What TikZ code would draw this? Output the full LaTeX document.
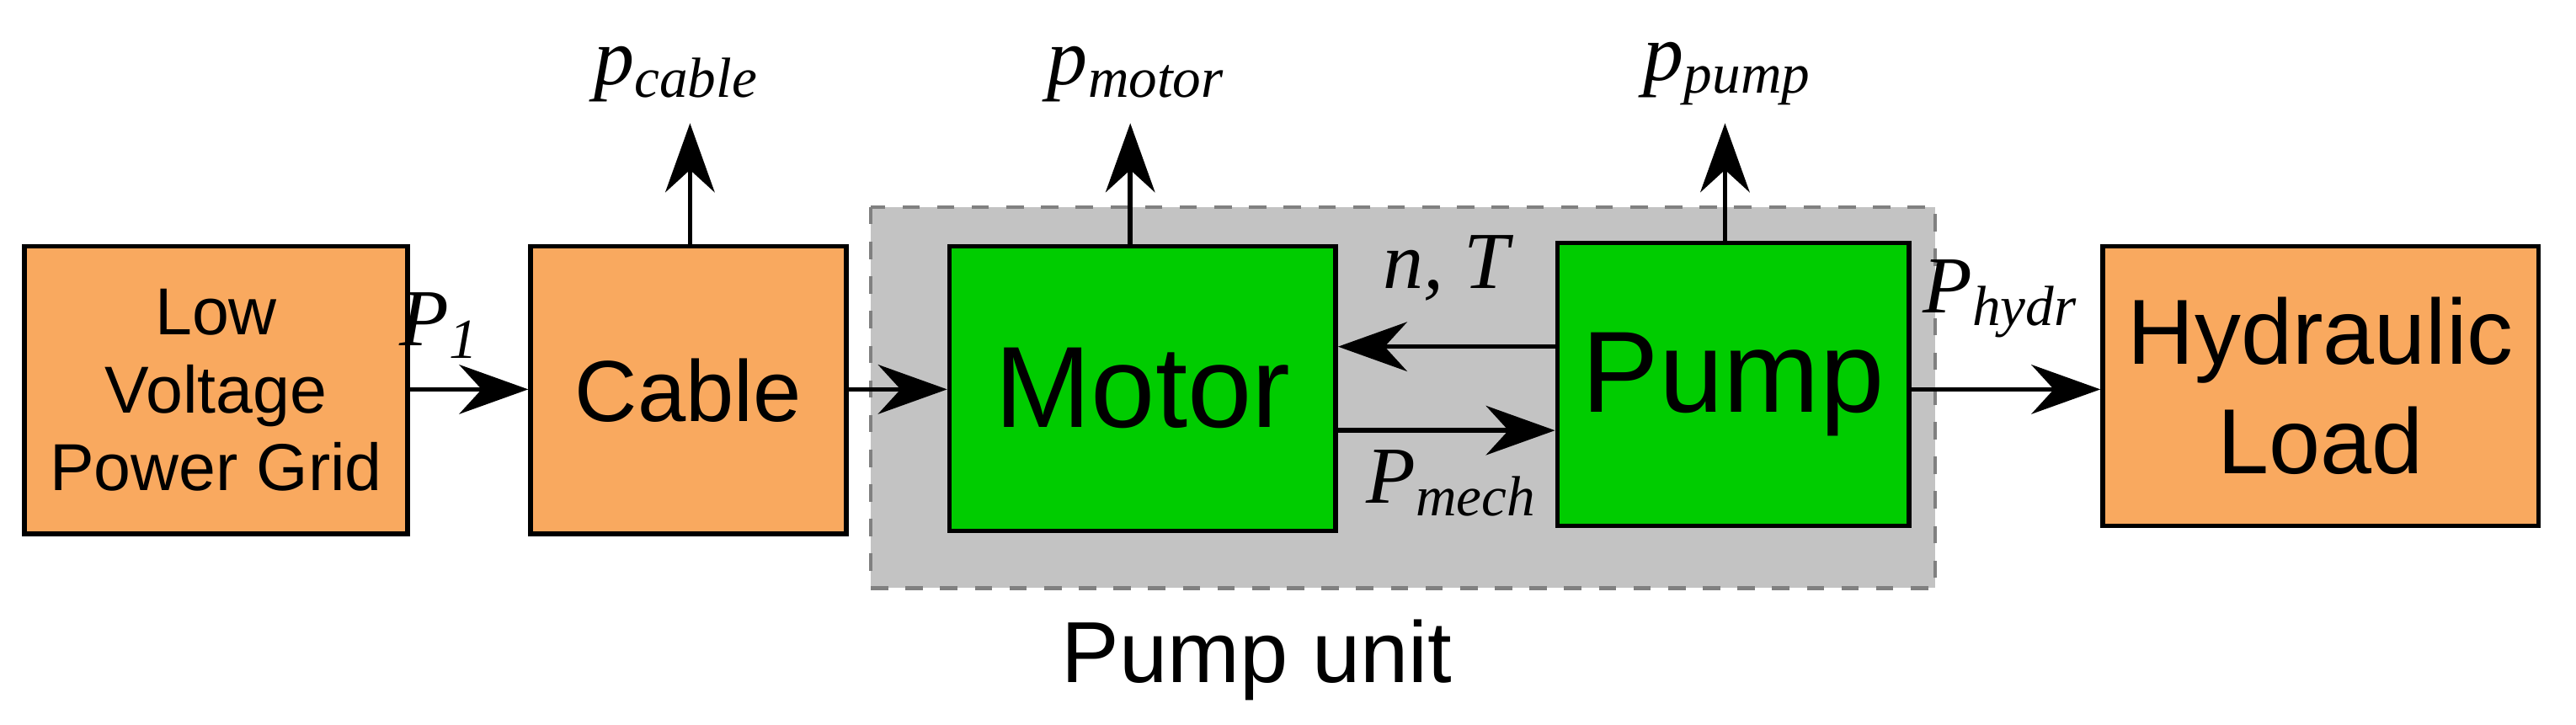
\documentclass[tikz,border=0pt]{standalone}
\usepackage{fontspec}
\setmainfont{Liberation Sans}
\newfontfamily\lserif{Liberation Serif}
\usetikzlibrary{arrows.meta}
\definecolor{org}{HTML}{F9A95F}
\definecolor{grn}{HTML}{00CC00}
\definecolor{gry}{HTML}{C3C3C3}
\begin{document}
\begin{tikzpicture}[x=0.01cm,y=-0.01cm,
 box/.style={draw=black,line width=0.8pt,align=center,inner sep=0pt},
 arr/.style={-{Stealth[length=0.42cm,width=0.3cm]},line width=0.8pt},
 lab/.style={font=\lserif\itshape\fontsize{14}{14}\selectfont}]
\useasboundingbox (0,0) rectangle (1568,441);
\fill[gry] (530,126) rectangle (1178,358);
\draw[dashed,gray,line width=0.6pt] (530,126) rectangle (1178,358);
\node[box,fill=org,minimum width=2.33cm,minimum height=1.75cm,font=\fontsize{11.5}{13.5}\selectfont] (grid) at (131.5,237.5) {Low\\Voltage\\Power Grid};
\node[box,fill=org,minimum width=1.92cm,minimum height=1.75cm,font=\fontsize{15}{17}\selectfont] (cable) at (419,237.5) {Cable};
\node[box,fill=grn,minimum width=2.35cm,minimum height=1.73cm,font=\fontsize{20}{22}\selectfont] (motor) at (695.5,236.5) {Motor};
\node[box,fill=grn,minimum width=2.14cm,minimum height=1.72cm,font=\fontsize{20}{22}\selectfont] (pump) at (1055,234) {Pump};
\node[box,fill=org,minimum width=2.65cm,minimum height=1.70cm,font=\fontsize{16}{19}\selectfont] (hyd) at (1412.5,235) {Hydraulic\\Load};
\node[font=\fontsize{15}{17}\selectfont] (pu) at (765,402) {Pump unit};
\draw[arr] (grid.east|-0,237) -- (cable.west|-0,237);
\node[lab] (p1) at (268,198) {P\textsubscript{\lserif\itshape 1}};
\draw[arr] (cable.east|-0,237) -- (motor.west|-0,237);
\draw[arr] (motor.east|-0,262) -- (pump.west|-0,262);
\node[lab] (pm) at (884,294) {P\textsubscript{mech}};
\draw[arr] (pump.west|-0,211) -- (motor.east|-0,211);
\node[lab] (nt) at (880,163) {n, T};
\draw[arr] (pump.east|-0,237) -- (hyd.west|-0,237);
\node[lab] (ph) at (1218,182) {P\textsubscript{hydr}};
\coordinate (c1) at (420,75); \coordinate (c2) at (688,75); \coordinate (c3) at (1050,75);
\draw[arr] (cable.north-|c1) -- (c1);
\draw[arr] (motor.north-|c2) -- (c2);
\draw[arr] (pump.north-|c3) -- (c3);
\node[lab] (pc) at (412,45) {p\textsubscript{cable}};
\node[lab] (pmo) at (692,45) {p\textsubscript{motor}};
\node[lab] (pp) at (1052,45) {p\textsubscript{pump}};
\end{tikzpicture}
\end{document}
